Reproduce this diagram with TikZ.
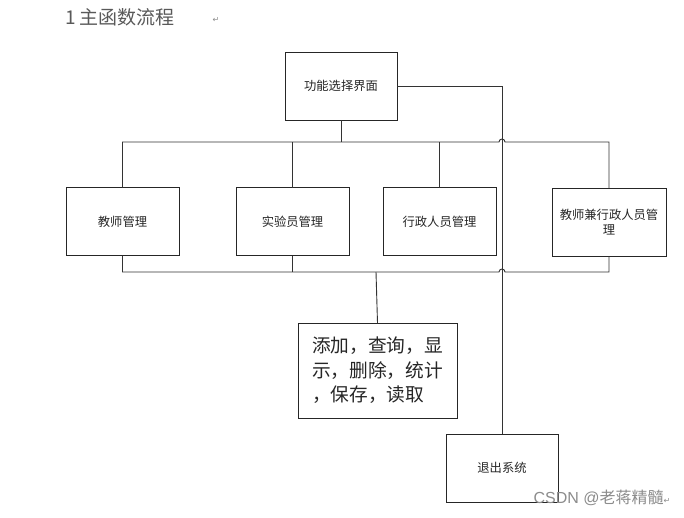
\documentclass[tikz,border=0pt]{standalone}
\usepackage{fontspec}
\newfontfamily\cjk{Noto Sans CJK SC}
\newfontfamily\sym{DejaVu Sans}
\newfontfamily\wm{Liberation Sans}
\usetikzlibrary{calc}
\begin{document}
\begin{tikzpicture}[x=1pt,y=-1pt,
  box/.style={draw=black!85,line width=0.9pt,inner sep=0pt,outer sep=0pt,font=\cjk\fontsize{12.3}{15}\selectfont,text=black!85,align=center},
  wire/.style={draw=black!80,line width=0.9pt}]
\useasboundingbox[fill=white] (0,0) rectangle (684,517);
% title
\node[font=\cjk\fontsize{19}{21}\selectfont,text=black!65,anchor=west] (title) at (62,17) {1\,主函数流程};
\node[font=\sym\fontsize{8}{9}\selectfont,text=black!45] (pm) at (216,20) {↵};
% boxes
\node[box,minimum width=112pt,minimum height=68pt] (f) at (341,86) {功能选择界面};
\node[box,minimum width=113pt,minimum height=68pt] (t) at (122.5,221.5) {教师管理};
\node[box,minimum width=113pt,minimum height=68pt] (s) at (292.5,221.5) {实验员管理};
\node[box,minimum width=113pt,minimum height=68pt] (x) at (439.5,221.5) {行政人员管理};
\node[box,minimum width=114pt,minimum height=68pt] (j) at (609,222) {教师兼行政人员管\\理};
\node[box,minimum width=159pt,minimum height=95pt,font=\cjk\fontsize{18.7}{24.5}\selectfont,align=left] (a) at (377.5,370.5) {添加，查询，显\\示，删除，统计\\，保存，读取};
\node[box,minimum width=112pt,minimum height=68pt] (e) at (502,468) {退出系统};
% watermark
\node[font=\cjk\fontsize{16}{18}\selectfont,text=black!45,anchor=west] (wmk) at (530,498) {{\wm CSDN @}老蒋精髓{\sym\fontsize{8}{9}\selectfont ↵}};
% bus levels
\coordinate (tb) at (0,142);
\coordinate (bb) at (0,272);
% right connector to exit
\draw[wire] (f.east) -| (e.north);
% top bus
\draw[wire] (t.north) -- (t.north|-tb) -- ($(e.north|-tb)+(-3,0)$) arc (180:360:3) -- (j.north|-tb) -- (j.north);
\draw[wire] (f.south) -- (f.south|-tb);
\draw[wire] (s.north) -- (s.north|-tb);
\draw[wire] (x.north) -- (x.north|-tb);
% bottom bus
\draw[wire] (t.south) -- (t.south|-bb) -- ($(e.north|-bb)+(-3,0)$) arc (180:360:3) -- (j.south|-bb) -- (j.south);
\draw[wire] (s.south) -- (s.south|-bb);
\draw[wire] (a.north) -- ($(a.north|-bb)+(-1.5,0)$);
\end{tikzpicture}
\end{document}
